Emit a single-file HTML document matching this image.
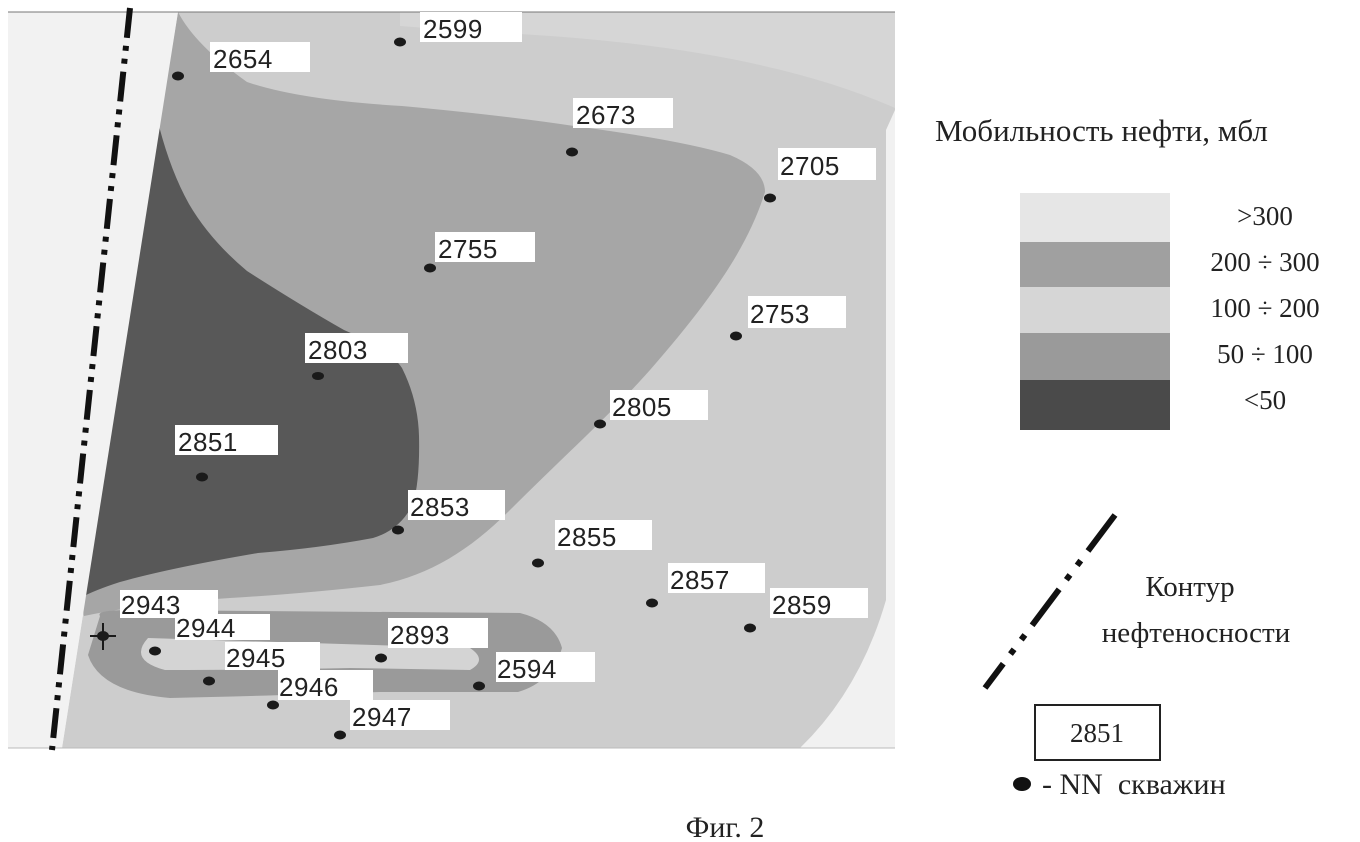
<!DOCTYPE html>
<html><head><meta charset="utf-8"><style>
html,body{margin:0;padding:0;background:#fff;}
svg{display:block;}
.lb{font-family:"Liberation Sans",sans-serif;font-size:26px;fill:#222;letter-spacing:0.5px;}
.lg{font-family:"Liberation Serif",serif;fill:#222;}
</style></head><body>
<svg width="1360" height="842" viewBox="0 0 1360 842" xmlns="http://www.w3.org/2000/svg">
<rect width="1360" height="842" fill="#fff"/>
<rect x="8" y="12" width="887" height="736" fill="#f1f1f1"/>
<path d="M178,12 L895,12 L895,110 L886,130 L886,600 Q860,690 800,748 L62,748 Z" fill="#cdcdcd"/>
<path d="M400,12 L895,12 L895,108 Q760,48 520,34 Q450,30 400,26 Z" fill="#d6d6d6"/>
<!-- medium (200-300) -->
<path d="M178,12 Q195,45 247,82 Q300,100 402,106 Q500,115 574,126 Q680,140 730,155 Q765,170 765,192 C750,240 720,290 650,370 C610,415 560,460 510,510 C470,550 430,575 380,585 Q300,594 230,598 Q140,604 84,616 L80,600 Z" fill="#a6a6a6"/>
<!-- dark (<50) -->
<path d="M158,122 Q170,170 189,204 Q210,240 247,271 Q300,305 344,330 Q390,350 402,368 Q418,400 419,436 Q420,480 413,504 Q400,530 373,538 Q320,548 258,553 Q170,568 120,582 Q95,590 80,598 Z" fill="#585858"/>
<!-- horseshoe (50-100) -->
<path d="M100,616 Q95,610 130,610 L520,613 Q555,622 562,648 Q552,682 518,692 L380,692 Q260,696 170,698 Q100,692 88,655 Z" fill="#9a9a9a"/>
<path d="M148,638 L470,648 Q488,660 470,670 L350,668 Q250,670 165,670 Q128,660 148,638 Z" fill="#d4d4d4"/>
<path d="M8,12 L178,12 L62,748 L8,748 Z" fill="#f2f2f2"/>
<line x1="8" y1="12" x2="895" y2="12" stroke="#777" stroke-width="1"/>
<line x1="8" y1="748" x2="895" y2="748" stroke="#bbb" stroke-width="1"/>
<line x1="130" y1="8" x2="52" y2="750" stroke="#111" stroke-width="6" stroke-dasharray="30,8,5,8,5,8"/>
<g>
<rect x="420" y="12" width="102" height="30" fill="#fff"/><text class="lb" x="423" y="38">2599</text>
<rect x="210" y="42" width="100" height="30" fill="#fff"/><text class="lb" x="213" y="68">2654</text>
<rect x="573" y="98" width="100" height="30" fill="#fff"/><text class="lb" x="576" y="124">2673</text>
<rect x="778" y="148" width="98" height="32" fill="#fff"/><text class="lb" x="780" y="175">2705</text>
<rect x="435" y="232" width="100" height="30" fill="#fff"/><text class="lb" x="438" y="258">2755</text>
<rect x="748" y="296" width="98" height="32" fill="#fff"/><text class="lb" x="750" y="323">2753</text>
<rect x="305" y="333" width="103" height="30" fill="#fff"/><text class="lb" x="308" y="359">2803</text>
<rect x="610" y="390" width="98" height="30" fill="#fff"/><text class="lb" x="612" y="416">2805</text>
<rect x="175" y="425" width="103" height="30" fill="#fff"/><text class="lb" x="178" y="451">2851</text>
<rect x="408" y="490" width="97" height="30" fill="#fff"/><text class="lb" x="410" y="516">2853</text>
<rect x="555" y="520" width="97" height="30" fill="#fff"/><text class="lb" x="557" y="546">2855</text>
<rect x="668" y="563" width="97" height="30" fill="#fff"/><text class="lb" x="670" y="589">2857</text>
<rect x="770" y="588" width="98" height="30" fill="#fff"/><text class="lb" x="772" y="614">2859</text>
<rect x="120" y="590" width="98" height="28" fill="#fff"/><text class="lb" x="121" y="614">2943</text>
<rect x="175" y="614" width="95" height="26" fill="#fff"/><text class="lb" x="176" y="637">2944</text>
<rect x="388" y="618" width="100" height="30" fill="#fff"/><text class="lb" x="390" y="644">2893</text>
<rect x="225" y="642" width="95" height="28" fill="#fff"/><text class="lb" x="226" y="667">2945</text>
<rect x="496" y="652" width="99" height="30" fill="#fff"/><text class="lb" x="497" y="678">2594</text>
<rect x="278" y="670" width="95" height="30" fill="#fff"/><text class="lb" x="279" y="696">2946</text>
<rect x="350" y="700" width="100" height="30" fill="#fff"/><text class="lb" x="352" y="726">2947</text>
</g>
<g fill="#1a1a1a">
<ellipse cx="400" cy="42" rx="6" ry="4.5"/><ellipse cx="178" cy="76" rx="6" ry="4.5"/>
<ellipse cx="572" cy="152" rx="6" ry="4.5"/><ellipse cx="770" cy="198" rx="6" ry="4.5"/>
<ellipse cx="430" cy="268" rx="6" ry="4.5"/><ellipse cx="736" cy="336" rx="6" ry="4.5"/>
<ellipse cx="318" cy="376" rx="6" ry="4"/><ellipse cx="600" cy="424" rx="6" ry="4.5"/>
<ellipse cx="202" cy="477" rx="6" ry="4.5"/><ellipse cx="398" cy="530" rx="6" ry="4.5"/>
<ellipse cx="538" cy="563" rx="6" ry="4.5"/><ellipse cx="652" cy="603" rx="6" ry="4.5"/>
<ellipse cx="750" cy="628" rx="6" ry="4.5"/><ellipse cx="155" cy="651" rx="6" ry="4.5"/>
<ellipse cx="381" cy="658" rx="6" ry="4.5"/><ellipse cx="209" cy="681" rx="6" ry="4.5"/>
<ellipse cx="479" cy="686" rx="6" ry="4.5"/><ellipse cx="273" cy="705" rx="6" ry="4.5"/>
<ellipse cx="340" cy="735" rx="6" ry="4.5"/>
<ellipse cx="103" cy="636" rx="6" ry="5"/>
</g>
<path d="M103,623 V650 M90,636 H116" stroke="#1a1a1a" stroke-width="2"/>
<text class="lg" x="935" y="141" font-size="31">Мобильность нефти, мбл</text>
<rect x="1020" y="193" width="150" height="49" fill="#e6e6e6"/>
<rect x="1020" y="242" width="150" height="45" fill="#a0a0a0"/>
<rect x="1020" y="287" width="150" height="46" fill="#d6d6d6"/>
<rect x="1020" y="333" width="150" height="47" fill="#9a9a9a"/>
<rect x="1020" y="380" width="150" height="50" fill="#4a4a4a"/>
<g class="lg" font-size="27" text-anchor="middle">
<text x="1265" y="225">&gt;300</text>
<text x="1265" y="271">200 ÷ 300</text>
<text x="1265" y="317">100 ÷ 200</text>
<text x="1265" y="363">50 ÷ 100</text>
<text x="1265" y="409">&lt;50</text>
</g>
<line x1="1115" y1="515" x2="985" y2="688" stroke="#111" stroke-width="6" stroke-dasharray="45,12,6,12,6,12"/>
<text class="lg" x="1190" y="596" font-size="29" text-anchor="middle">Контур</text>
<text class="lg" x="1196" y="642" font-size="29" text-anchor="middle">нефтеносности</text>
<rect x="1035" y="705" width="125" height="55" fill="#fff" stroke="#222" stroke-width="2"/>
<text class="lg" x="1097" y="742" font-size="27" text-anchor="middle">2851</text>
<ellipse cx="1022" cy="784" rx="9" ry="7" fill="#111"/>
<text class="lg" x="1042" y="794" font-size="30" xml:space="preserve">- NN  скважин</text>
<text class="lg" x="725" y="837" font-size="30" text-anchor="middle">Фиг. 2</text>
</svg>
</body></html>
